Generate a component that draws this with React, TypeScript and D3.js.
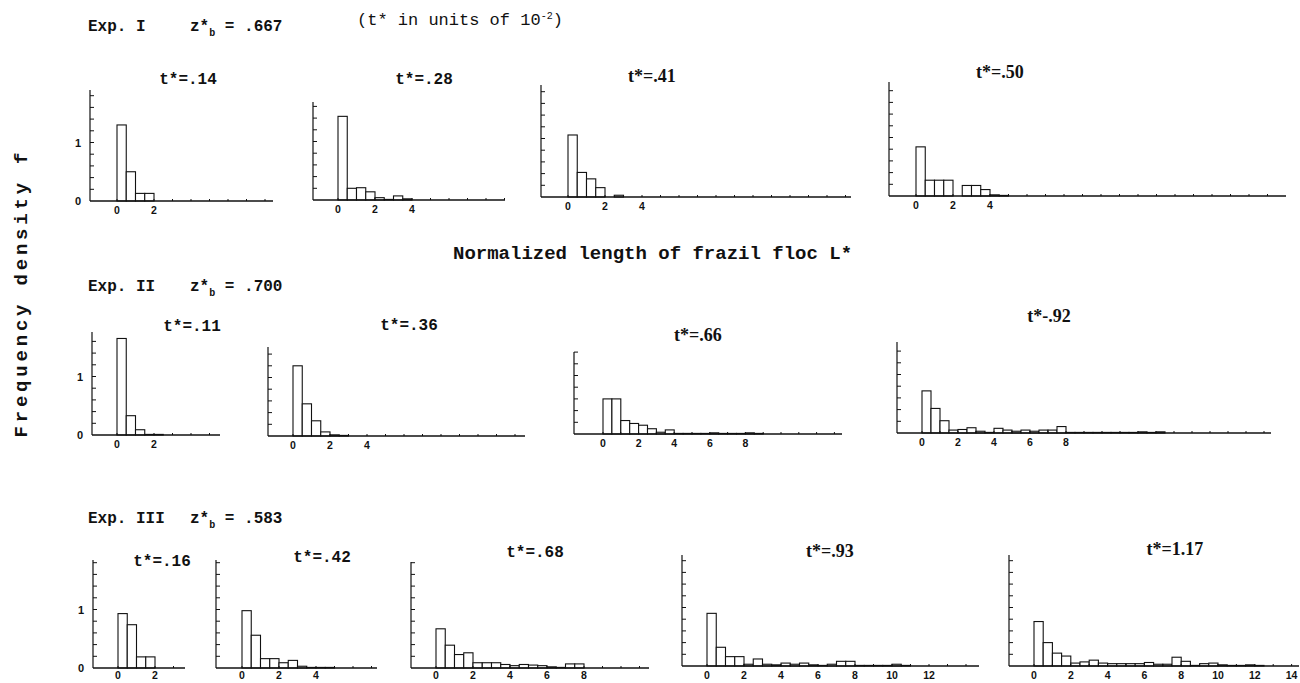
import React from 'react'
import * as d3 from 'd3'

// bin heights (frequency density f), bins of width 0.5 in L*
const exp1T14 = [1.3, 0.5, 0.13, 0.13]
const exp1T28 = [1.43, 0.2, 0.21, 0.14, 0.04, 0.01, 0.07, 0.02]
const exp1T41 = [1.06, 0.42, 0.31, 0.16, 0, 0.03]
const exp1T50 = [0.84, 0.27, 0.27, 0.27, 0, 0.18, 0.18, 0.11, 0.02, 0.01]

const exp2T11 = [1.65, 0.33, 0.09, 0.01, 0.01]
const exp2T36 = [1.2, 0.55, 0.26, 0.07, 0.02, 0.01]
const exp2T66 = [0.6, 0.6, 0.23, 0.18, 0.15, 0.09, 0.03, 0.07, 0.01, 0.01, 0.01, 0.01, 0.02, 0.01, 0.01, 0.01, 0.02, 0.01]
const exp2T92 = [0.72, 0.42, 0.21, 0.05, 0.06, 0.09, 0.03, 0.01, 0.08, 0.05, 0.03, 0.05, 0.03, 0.05, 0.05, 0.11, 0.01, 0.01, 0.01, 0.01, 0.01, 0.01, 0.01, 0.01, 0.02, 0.01, 0.02]

const exp3T16 = [0.93, 0.74, 0.19, 0.19]
const exp3T42 = [0.98, 0.56, 0.16, 0.16, 0.09, 0.13, 0.03, 0.01, 0.01, 0.01]
const exp3T68 = [0.67, 0.39, 0.23, 0.26, 0.09, 0.09, 0.09, 0.06, 0.04, 0.06, 0.05, 0.04, 0.02, 0.01, 0.07, 0.07]
const exp3T93 = [0.9, 0.32, 0.16, 0.16, 0.03, 0.12, 0.03, 0.02, 0.05, 0.03, 0.05, 0.02, 0.01, 0.03, 0.08, 0.08, 0.01, 0.01, 0.01, 0.01, 0.03, 0.01]
const exp3T117 = [0.76, 0.4, 0.22, 0.17, 0.05, 0.07, 0.1, 0.05, 0.04, 0.04, 0.04, 0.04, 0.06, 0.03, 0.03, 0.15, 0.08, 0.01, 0.04, 0.05, 0.02, 0.01, 0.01, 0.02, 0.01]

const ticks02 = [0, 2]
const ticks024 = [0, 2, 4]
const ticks08 = [0, 2, 4, 6, 8]
const ticks012 = [0, 2, 4, 6, 8, 10, 12]
const ticks014 = [0, 2, 4, 6, 8, 10, 12, 14]
const yLabels = [0, 1]

const MONO = '"Liberation Mono", "DejaVu Sans Mono", monospace'
const SERIF = '"Liberation Serif", "DejaVu Serif", serif'
const SANS = '"Liberation Sans", Arial, sans-serif'

const BW = 0.5

// frame of each panel: y-axis x, pixel of L*=0, axis end, baseline, axis top, px per unit of L*
const panels = [
  { title: 't*=.14', font: MONO, bins: exp1T14, xt: ticks02, yl: true, x0: 90, z: 117, x1: 273, base: 201, top: 90, u: 18.5, tx: 188, ty: 84 },
  { title: 't*=.28', font: MONO, bins: exp1T28, xt: ticks024, yl: false, x0: 313, z: 338, x1: 505, base: 200, top: 102, u: 18.5, tx: 424, ty: 84 },
  { title: 't*=.41', font: SERIF, bins: exp1T41, xt: ticks024, yl: false, x0: 541, z: 568, x1: 851, base: 197, top: 85, u: 18.5, tx: 652, ty: 82 },
  { title: 't*=.50', font: SERIF, bins: exp1T50, xt: ticks024, yl: false, x0: 889, z: 916, x1: 1286, base: 196, top: 82, u: 18.5, tx: 1000, ty: 78 },

  { title: 't*=.11', font: MONO, bins: exp2T11, xt: ticks02, yl: true, x0: 92, z: 117, x1: 220, base: 435, top: 332, u: 18.5, tx: 192, ty: 331 },
  { title: 't*=.36', font: MONO, bins: exp2T36, xt: ticks024, yl: false, x0: 268, z: 293, x1: 525, base: 436, top: 347, u: 18.5, tx: 409, ty: 330 },
  { title: 't*=.66', font: SERIF, bins: exp2T66, xt: ticks08, yl: false, x0: 574, z: 603, x1: 842, base: 434, top: 352, u: 17.8, tx: 698, ty: 341 },
  { title: 't*-.92', font: SERIF, bins: exp2T92, xt: ticks08, yl: false, x0: 897, z: 922, x1: 1271, base: 433, top: 342, u: 18, tx: 1049, ty: 322 },

  { title: 't*=.16', font: MONO, bins: exp3T16, xt: ticks02, yl: true, x0: 93, z: 118, x1: 185, base: 668, top: 560, u: 18.5, tx: 162, ty: 566 },
  { title: 't*=.42', font: MONO, bins: exp3T42, xt: ticks024, yl: false, x0: 216, z: 242, x1: 377, base: 668, top: 560, u: 18.5, tx: 322, ty: 562 },
  { title: 't*=.68', font: MONO, bins: exp3T68, xt: ticks08, yl: false, x0: 411, z: 436, x1: 649, base: 668, top: 562, u: 18.5, tx: 535, ty: 557 },
  { title: 't*=.93', font: SERIF, bins: exp3T93, xt: ticks012, yl: false, x0: 682, z: 707, x1: 979, base: 666, top: 555, u: 18.5, tx: 830, ty: 557 },
  { title: 't*=1.17', font: SERIF, bins: exp3T117, xt: ticks014, yl: false, x0: 1009, z: 1034, x1: 1299, base: 666, top: 555, u: 18.4, tx: 1175, ty: 555 },
]

const Y_UNIT = 58.5

function Panel({ p }: { p: any }) {
  const x = d3.scaleLinear()
    .domain([(p.x0 - p.z) / p.u, (p.x1 - p.z) / p.u])
    .range([p.x0, p.x1])
  const yMax = (p.base - p.top) / Y_UNIT
  const y = d3.scaleLinear().domain([0, yMax]).range([p.base, p.top])
  const yTicks = d3.range(0.2, yMax, 0.2)
  const minor = d3.range(0, x.domain()[1], 1)
  const labelY = Math.min(y(0) + 13, 679)

  return (
    <g stroke="#111" fill="none">
      {p.bins.map((v: number, i: number) => v > 0 && (
        <rect
          key={i}
          x={x(i * BW)}
          width={x((i + 1) * BW) - x(i * BW)}
          y={y(v)}
          height={y(0) - y(v)}
          fill="#fff"
          strokeWidth={1.1}
        />
      ))}
      <line x1={p.x0} x2={p.x0} y1={y(0)} y2={p.top} strokeWidth={1.2} />
      <line x1={p.x0} x2={p.x1} y1={y(0)} y2={y(0)} strokeWidth={1.3} />
      {yTicks.map((t, i) => (
        <line key={i} x1={p.x0} x2={p.x0 + 4} y1={y(t)} y2={y(t)} strokeWidth={1} />
      ))}
      {minor.map((t, i) => (
        <line key={i} x1={x(t)} x2={x(t)} y1={y(0)} y2={y(0) - 2} strokeWidth={1} />
      ))}
      {p.xt.map((t: number) => (
        <text key={t} x={x(t)} y={labelY} textAnchor="middle" stroke="none" fill="#111"
          style={{ font: `bold 10.5px ${SANS}` }}>{t}</text>
      ))}
      {p.yl && yLabels.map(t => (
        <text key={t} x={p.x0 - 12} y={y(t) + 4} textAnchor="middle" stroke="none" fill="#111"
          style={{ font: `bold 11px ${SANS}` }}>{t}</text>
      ))}
      <text x={p.tx} y={p.ty} textAnchor="middle" stroke="none" fill="#111"
        style={{ font: p.font === MONO ? `bold 16px ${MONO}` : `bold 18px ${SERIF}` }}>{p.title}</text>
    </g>
  )
}

function Header({ y, exp, z }: { y: number, exp: string, z: string }) {
  const st = { font: `bold 16px ${MONO}` }
  return (
    <g fill="#111">
      <text x={88} y={y} style={st}>{exp}</text>
      <text x={190} y={y} style={st}>
        z*<tspan dy={5} style={{ fontSize: 10 }}>b</tspan><tspan dy={-5}> = {z}</tspan>
      </text>
    </g>
  )
}

export default function App() {
  return (
    <svg width={1300} height={683} style={{ position: 'absolute', left: 0, top: 0, background: '#fff' }}>
      <rect width={1300} height={683} fill="#fff" />
      <Header y={31} exp="Exp. I" z=".667" />
      <text x={357} y={25} fill="#111" style={{ font: `17px ${MONO}` }}>
        (t* in units of 10<tspan dy={-6} style={{ fontSize: 10 }}>-2</tspan><tspan dy={6}>)</tspan>
      </text>
      <Header y={291} exp="Exp. II" z=".700" />
      <Header y={523} exp="Exp. III" z=".583" />
      <text x={453} y={259} fill="#111" style={{ font: `bold 19px ${MONO}` }}>
        Normalized length of frazil floc  L*
      </text>
      <text transform="translate(27,295) rotate(-90)" textAnchor="middle" fill="#111"
        textLength={285} lengthAdjust="spacing"
        style={{ font: `bold 19px ${MONO}` }}>Frequency density  f</text>
      {panels.map((p, i) => <Panel key={i} p={p} />)}
    </svg>
  )
}
